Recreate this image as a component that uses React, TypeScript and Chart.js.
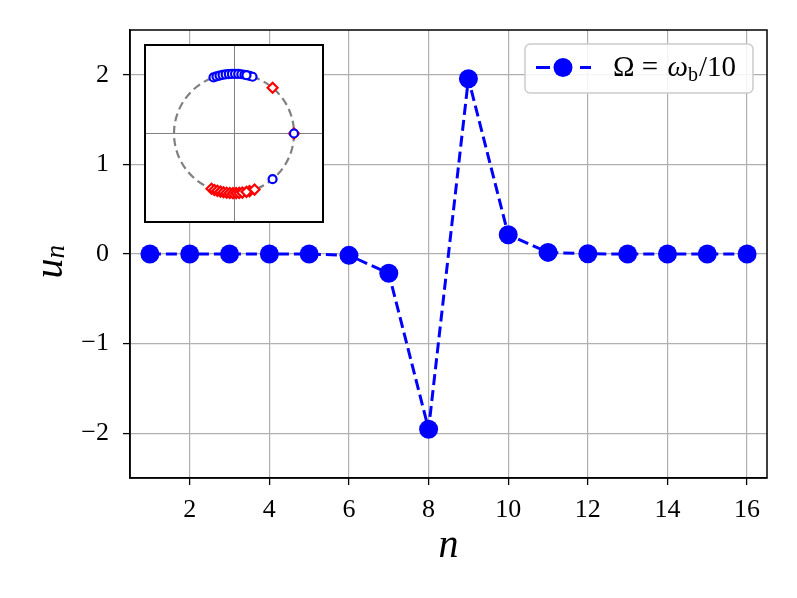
import React, { useEffect, useRef } from "react";
import { Chart, registerables } from "chart.js";

Chart.register(...registerables);

// ---- main chart data ----
const nValues = [1, 2, 3, 4, 5, 6, 7, 8, 9, 10, 11, 12, 13, 14, 15, 16];
const uValues = [0, 0, 0, 0, 0, -0.015, -0.215, -1.955, 1.955, 0.215, 0.018, 0.002, 0, 0, 0, 0];
const xTicks = [2, 4, 6, 8, 10, 12, 14, 16];
const yTicks = [-2, -1, 0, 1, 2];
const seriesLabel = "Ω = ω_b/10";

// ---- inset data (points on the unit circle) ----
const insetBlueX = [-0.342, -0.292, -0.242, -0.191, -0.139, -0.087, -0.035, 0.017, 0.070, 0.122, 0.174, 0.259, 0.309, 0.208, 0.643, 1.0];
const insetBlueY = [0.940, 0.956, 0.970, 0.982, 0.990, 0.996, 0.999, 1.0, 0.998, 0.993, 0.985, 0.966, 0.951, 0.978, -0.766, 0.0];
const insetRedX = [-0.375, -0.326, -0.276, -0.225, -0.174, -0.122, -0.070, -0.017, 0.035, 0.087, 0.139, 0.259, 0.342, 0.208, 0.643, 1.0];
const insetRedY = [-0.927, -0.946, -0.961, -0.974, -0.985, -0.993, -0.998, -1.0, -0.999, -0.996, -0.990, -0.966, -0.940, -0.978, 0.766, 0.0];
const insetLimit = 1.5;

const FONT = "'Liberation Serif', 'DejaVu Serif', serif";
const BLUE = "#0000ff";
const RED = "#ff0000";

const fmt = (v: number) => String(v).replace("-", "\u2212");

export default function App() {
  const mainRef = useRef<HTMLCanvasElement | null>(null);
  const insetRef = useRef<HTMLCanvasElement | null>(null);

  useEffect(() => {
    const framePlugin = {
      id: "frameAndLabels",
      afterDraw(chart: any) {
        const ctx = chart.ctx as CanvasRenderingContext2D;
        const a = chart.chartArea;
        ctx.save();
        // frame
        ctx.strokeStyle = "#000";
        ctx.lineWidth = 1.5;
        ctx.strokeRect(a.left, a.top, a.right - a.left, a.bottom - a.top);

        // x label
        ctx.fillStyle = "#000";
        ctx.font = `italic 40px ${FONT}`;
        ctx.textAlign = "center";
        ctx.textBaseline = "alphabetic";
        ctx.fillText("n", (a.left + a.right) / 2, 557);

        // y label u_n (rotated)
        ctx.save();
        ctx.translate(62, 256.5);
        ctx.rotate(-Math.PI / 2);
        ctx.textAlign = "left";
        ctx.font = `italic 40px ${FONT}`;
        const uw = ctx.measureText("u").width;
        ctx.fillText("u", -22, 0);
        ctx.font = `italic 27px ${FONT}`;
        ctx.fillText("n", -22 + uw, 2);
        ctx.restore();

        // legend
        const lx = 525, ly = 44, lw = 228, lh = 49;
        ctx.beginPath();
        (ctx as any).roundRect(lx, ly, lw, lh, 5);
        ctx.fillStyle = "rgba(255,255,255,0.85)";
        ctx.fill();
        ctx.strokeStyle = "#cccccc";
        ctx.lineWidth = 1.5;
        ctx.stroke();

        const yy = 67.5;
        ctx.strokeStyle = BLUE;
        ctx.lineWidth = 3;
        ctx.setLineDash([14, 30]);
        ctx.beginPath();
        ctx.moveTo(536, yy);
        ctx.lineTo(591, yy);
        ctx.stroke();
        ctx.setLineDash([]);
        ctx.beginPath();
        ctx.arc(563, yy, 9.5, 0, Math.PI * 2);
        ctx.fillStyle = BLUE;
        ctx.fill();

        // legend text: Ω = ω_b/10
        const base = 76;
        let x = 613;
        ctx.fillStyle = "#000";
        ctx.textAlign = "left";
        ctx.font = `29px ${FONT}`;
        const parts = seriesLabel.split("_"); // ["Ω = ω", "b/10"]
        const pre = parts[0].slice(0, -1); // "Ω = "
        const greek = parts[0].slice(-1); // "ω"
        ctx.fillText(pre, x, base);
        x += ctx.measureText(pre).width + 2;
        ctx.font = `italic 29px ${FONT}`;
        ctx.fillText(greek, x, base);
        x += ctx.measureText(greek).width;
        ctx.font = `20px ${FONT}`;
        const sub = parts[1].slice(0, 1);
        ctx.fillText(sub, x, base + 5);
        x += ctx.measureText(sub).width + 1;
        ctx.font = `29px ${FONT}`;
        ctx.fillText(parts[1].slice(1), x, base);
        ctx.restore();
      },
    };

    const main = new Chart(mainRef.current as HTMLCanvasElement, {
      type: "line",
      data: {
        datasets: [
          {
            label: seriesLabel,
            data: nValues.map((n, i) => ({ x: n, y: uValues[i] })),
            borderColor: BLUE,
            backgroundColor: BLUE,
            borderWidth: 3,
            borderDash: [11, 5],
            pointRadius: 9.5,
            pointBorderWidth: 0,
            pointBackgroundColor: BLUE,
            tension: 0,
            clip: false as any,
          },
        ],
      },
      options: {
        animation: false,
        responsive: false,
        devicePixelRatio: 1,
        layout: { padding: { top: 30, right: 30, left: 0, bottom: 0 }, autoPadding: false },
        plugins: { legend: { display: false }, tooltip: { enabled: false } },
        scales: {
          x: {
            type: "linear",
            min: 0.5,
            max: 16.5,
            afterBuildTicks: (s: any) => {
              s.ticks = xTicks.map((v) => ({ value: v }));
            },
            afterFit: (s: any) => {
              s.height = 120;
            },
            grid: { color: "#b0b0b0", lineWidth: 1.2, tickColor: "#000", tickLength: 7, tickWidth: 1.3 } as any,
            border: { color: "#000", width: 1.5 },
            ticks: {
              font: { family: FONT, size: 26 },
              color: "#000",
              padding: 10,
              maxRotation: 0,
              autoSkip: false,
              callback: (v: any) => fmt(Number(v)),
            },
          },
          y: {
            type: "linear",
            min: -2.5,
            max: 2.5,
            afterBuildTicks: (s: any) => {
              s.ticks = yTicks.map((v) => ({ value: v }));
            },
            afterFit: (s: any) => {
              s.width = 130;
            },
            grid: { color: "#b0b0b0", lineWidth: 1.2, tickColor: "#000", tickLength: 7, tickWidth: 1.3 } as any,
            border: { color: "#000", width: 1.5 },
            ticks: {
              font: { family: FONT, size: 26 },
              color: "#000",
              padding: 14,
              autoSkip: false,
              callback: (v: any) => fmt(Number(v)),
            },
          },
        },
      },
      plugins: [framePlugin],
    });

    const insetPlugin = {
      id: "insetDecor",
      beforeDraw(chart: any) {
        const ctx = chart.ctx as CanvasRenderingContext2D;
        ctx.save();
        ctx.fillStyle = "#fff";
        ctx.fillRect(0, 0, chart.width, chart.height);
        ctx.restore();
      },
      beforeDatasetsDraw(chart: any) {
        const ctx = chart.ctx as CanvasRenderingContext2D;
        const xs = chart.scales.x;
        const ys = chart.scales.y;
        const cx = xs.getPixelForValue(0);
        const cy = ys.getPixelForValue(0);
        const rx = xs.getPixelForValue(1) - cx;
        const ry = cy - ys.getPixelForValue(1);
        ctx.save();
        ctx.strokeStyle = "#808080";
        ctx.lineWidth = 2.2;
        ctx.setLineDash([8, 4.5]);
        ctx.beginPath();
        ctx.ellipse(cx, cy, rx, ry, 0, 0, Math.PI * 2);
        ctx.stroke();
        ctx.restore();
      },
      afterDraw(chart: any) {
        const ctx = chart.ctx as CanvasRenderingContext2D;
        ctx.save();
        ctx.strokeStyle = "#000";
        ctx.lineWidth = 2;
        ctx.strokeRect(1, 1, chart.width - 2, chart.height - 2);
        ctx.restore();
      },
    };

    const insetAxis = (extra: any) => ({
      type: "linear",
      min: -insetLimit,
      max: insetLimit,
      afterBuildTicks: (s: any) => {
        s.ticks = [{ value: 0 }];
      },
      grid: { color: "#808080", lineWidth: 1, drawTicks: false },
      border: { display: false },
      ticks: { display: false },
      ...extra,
    });

    const inset = new Chart(insetRef.current as HTMLCanvasElement, {
      type: "scatter",
      data: {
        datasets: [
          {
            data: insetBlueX.map((x, i) => ({ x, y: insetBlueY[i] })),
            pointStyle: "circle",
            pointRadius: 4,
            borderColor: BLUE,
            backgroundColor: "#ffffff",
            borderWidth: 2.2,
          },
          {
            data: insetRedX.map((x, i) => ({ x, y: insetRedY[i] })),
            pointStyle: "rectRot",
            pointRadius: 5,
            borderColor: RED,
            backgroundColor: "#ffffff",
            borderWidth: 2.2,
          },
        ],
      },
      options: {
        animation: false,
        responsive: false,
        devicePixelRatio: 1,
        layout: { padding: 0, autoPadding: false },
        plugins: { legend: { display: false }, tooltip: { enabled: false } },
        scales: {
          x: insetAxis({ afterFit: (s: any) => { s.height = 0; } }),
          y: insetAxis({ afterFit: (s: any) => { s.width = 0; } }),
        } as any,
      },
      plugins: [insetPlugin],
    });

    return () => {
      main.destroy();
      inset.destroy();
    };
  }, []);

  return (
    <div style={{ position: "absolute", left: 0, top: 0, width: 797, height: 598, background: "#fff" }}>
      <canvas ref={mainRef} width={797} height={598} style={{ position: "absolute", left: 0, top: 0 }} />
      <canvas ref={insetRef} width={180} height={179} style={{ position: "absolute", left: 144, top: 44 }} />
    </div>
  );
}
